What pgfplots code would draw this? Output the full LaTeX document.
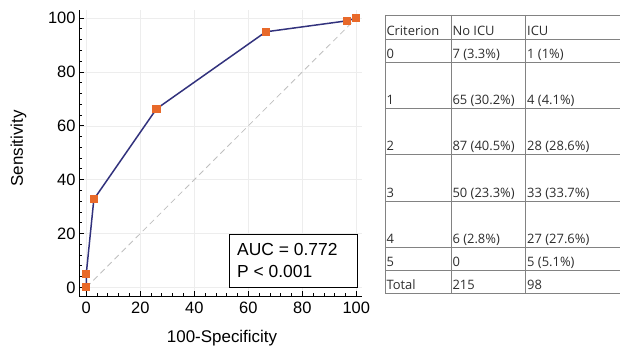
\documentclass[border=0pt]{standalone}
\usepackage{pgfplots}
\pgfplotsset{compat=1.18}
\usepackage{fontspec}
\setmainfont{Liberation Sans}
\newfontfamily\tabfont{Open Sans}
\definecolor{roc}{RGB}{50,50,125}
\definecolor{mk}{RGB}{232,105,42}
\definecolor{tabline}{RGB}{130,130,130}
\definecolor{tabtext}{RGB}{45,45,45}
\begin{document}
\begin{tikzpicture}[x=1bp,y=1bp]
\useasboundingbox (0,0) rectangle (621,351);
\begin{axis}[
  at={(79bp,55bp)}, anchor=south west, scale only axis,
  width=282.7bp, height=286bp,
  xmin=-2.7, xmax=102, ymin=-3.2, ymax=103,
  axis lines=left, axis line style={-, line width=1pt},
  xtick={0,20,...,100}, ytick={0,20,...,100}, minor tick num=4,
  tick align=inside, major tick length=5bp, minor tick length=3bp,
  tick style={black, line width=0.8pt},
  grid=major, major grid style={black!7, line width=0.6pt},
  ticklabel style={font=\fontsize{16.5}{16.5}\selectfont},
  xticklabel style={yshift=-2bp},
  /pgf/number format/assume math mode=true,
  xlabel={100-Specificity}, ylabel={Sensitivity},
  label style={font=\fontsize{17}{17}\selectfont},
  xlabel style={at={(axis description cs:0.506,-0.164)}, anchor=base},
  ylabel style={at={(axis description cs:-0.214,0.516)}, anchor=center},
  clip=false,
]
\addplot[black!25, dashed, dash pattern=on 6pt off 4pt, line width=0.8pt] coordinates {(0,0) (100,100)};
\addplot[roc, line width=1.5pt, mark=square*, mark size=3.3pt,
  mark options={fill=mk, draw=mk, solid}] coordinates {
  (0,0) (0,5.1) (2.8,32.7) (26.0,66.3) (66.5,94.9) (96.7,99.0) (100,100)};
\draw[line width=0.9pt, fill=white] (axis cs:53.2,0) rectangle (axis cs:100.4,19.8);
\node[anchor=base west, inner sep=0, font=\fontsize{17.5}{17.5}\selectfont] at (axis cs:55.8,11.9) {AUC = 0.772};
\node[anchor=base west, inner sep=0, font=\fontsize{17.5}{17.5}\selectfont] at (axis cs:55.8,3.7) {P < 0.001};
\end{axis}
% table
\foreach \yy in {336,311.7,288.3,242.7,196.7,150,103.7,80.3,57.7}
  \draw[tabline, line width=0.8pt] (385,\yy) -- (620,\yy);
\foreach \xx in {385,451,525.7}
  \draw[tabline, line width=0.8pt] (\xx,336) -- (\xx,57.7);
\foreach \yb/\a/\b/\c in {311.7/Criterion/No ICU/ICU,
  288.3/0/7 (3.3\%)/1 (1\%),
  242.7/1/65 (30.2\%)/4 (4.1\%),
  196.7/2/87 (40.5\%)/28 (28.6\%),
  150/3/50 (23.3\%)/33 (33.7\%),
  103.7/4/6 (2.8\%)/27 (27.6\%),
  80.3/5/0/5 (5.1\%),
  57.7/Total/215/98}{
  \node[anchor=base west, inner sep=0, text=tabtext, font=\tabfont\fontsize{13}{13}\selectfont] at (386.3,\yb+4) {\a};
  \node[anchor=base west, inner sep=0, text=tabtext, font=\tabfont\fontsize{13}{13}\selectfont] at (452.3,\yb+4) {\b};
  \node[anchor=base west, inner sep=0, text=tabtext, font=\tabfont\fontsize{13}{13}\selectfont] at (527,\yb+4) {\c};
}
\end{tikzpicture}
\end{document}
